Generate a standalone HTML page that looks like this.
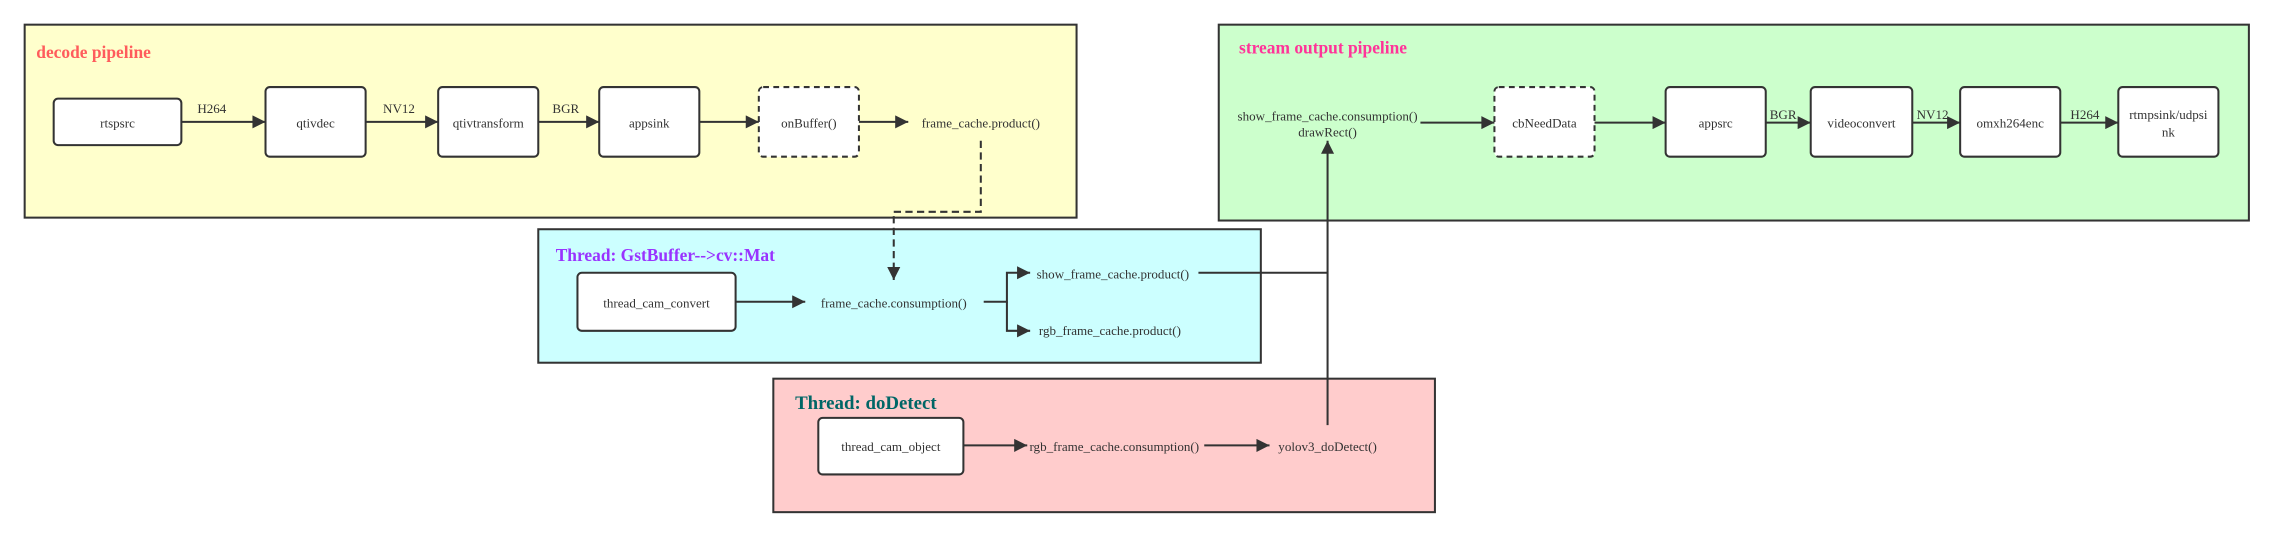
<!DOCTYPE html>
<html><head><meta charset="utf-8"><style>
html,body{margin:0;padding:0;background:#fff;}
svg{display:block;}
text{font-family:"Liberation Serif",serif;fill:#333;}
</style></head><body>
<svg width="2275" height="539" viewBox="0 0 1568 371.5" preserveAspectRatio="none" xmlns="http://www.w3.org/2000/svg">
<defs>
<marker id="a" viewBox="0 0 10 10" refX="10" refY="5" markerWidth="7" markerHeight="7" markerUnits="userSpaceOnUse" orient="auto"><path d="M0,0 L10,5 L0,10 z" fill="#333"/></marker>
<marker id="b" viewBox="0 0 10 10" refX="10" refY="5" markerWidth="12" markerHeight="9" markerUnits="userSpaceOnUse" orient="auto"><path d="M0,0 L10,5 L0,10 z" fill="#333"/></marker>
</defs>
<g stroke="#333" stroke-width="1.4">
<rect x="17" y="17" width="725" height="133" fill="#ffffcc"/>
<rect x="840" y="17" width="710" height="135" fill="#ccffcc"/>
<rect x="371" y="158" width="498" height="92" fill="#ccffff"/>
<rect x="533" y="261" width="456" height="92" fill="#ffcccc"/>
</g>
<g font-size="12" font-weight="bold">
<text x="25" y="40" style="fill:#ff5c5c">decode pipeline</text>
<text x="854" y="37" style="fill:#ff3399">stream output pipeline</text>
<text x="383" y="180" style="fill:#9933ff">Thread: GstBuffer--&gt;cv::Mat</text>
<text x="548" y="282" font-size="13" style="fill:#006666">Thread: doDetect</text>
</g>
<g stroke="#333" stroke-width="1.4" fill="#fff">
<rect x="37" y="68" width="88" height="32" rx="3"/>
<rect x="183" y="60" width="69" height="48" rx="3"/>
<rect x="302" y="60" width="69" height="48" rx="3"/>
<rect x="413" y="60" width="69" height="48" rx="3"/>
<rect x="523" y="60" width="69" height="48" rx="3" stroke-dasharray="4,3"/>
<rect x="1030" y="60" width="69" height="48" rx="3" stroke-dasharray="4,3"/>
<rect x="1148" y="60" width="69" height="48" rx="3"/>
<rect x="1248" y="60" width="70" height="48" rx="3"/>
<rect x="1351" y="60" width="69" height="48" rx="3"/>
<rect x="1460" y="60" width="69" height="48" rx="3"/>
<rect x="398" y="188" width="109" height="40" rx="3"/>
<rect x="564" y="288" width="100" height="39" rx="3"/>
</g>
<g stroke="#333" stroke-width="1.4" fill="none" marker-end="url(#b)">
<path d="M125,84 H183"/><path d="M252,84 H302"/><path d="M371,84 H413"/><path d="M482,84 H523"/><path d="M592,84 H626"/>
<path d="M979,84.5 H1030"/><path d="M1099,84.5 H1148"/><path d="M1217,84.5 H1248"/><path d="M1318,84.5 H1351"/><path d="M1420,84.5 H1460"/>
<path d="M507,208 H555"/>
<path d="M664,307 H708"/><path d="M830,307 H875"/>
<path d="M676,97 V146 H616 V193" stroke-dasharray="5,3"/>
<path d="M915,293 V97"/>
<path d="M678,208 H694 V188 H710"/>
<path d="M694,208 V228 H710"/>
</g>
<path d="M826,188 H915" stroke="#333" stroke-width="1.4" fill="none"/>
<g font-size="9" text-anchor="middle">
<text x="81" y="88">rtspsrc</text>
<text x="217.5" y="88">qtivdec</text>
<text x="336.5" y="88">qtivtransform</text>
<text x="447.5" y="88">appsink</text>
<text x="557.5" y="88">onBuffer()</text>
<text x="676" y="88">frame_cache.product()</text>
<text x="146" y="78">H264</text>
<text x="275" y="78">NV12</text>
<text x="390" y="78">BGR</text>
<text x="915" y="83">show_frame_cache.consumption()</text>
<text x="915" y="94">drawRect()</text>
<text x="1064.5" y="88">cbNeedData</text>
<text x="1182.5" y="88">appsrc</text>
<text x="1283" y="88">videoconvert</text>
<text x="1385.5" y="88">omxh264enc</text>
<text x="1494.5" y="82">rtmpsink/udpsi</text>
<text x="1494.5" y="94">nk</text>
<text x="1229" y="82">BGR</text>
<text x="1332" y="82">NV12</text>
<text x="1437" y="82">H264</text>
<text x="452.5" y="212">thread_cam_convert</text>
<text x="616" y="212">frame_cache.consumption()</text>
<text x="767" y="192">show_frame_cache.product()</text>
<text x="765" y="231">rgb_frame_cache.product()</text>
<text x="614" y="311">thread_cam_object</text>
<text x="768" y="311">rgb_frame_cache.consumption()</text>
<text x="915" y="311">yolov3_doDetect()</text>
</g>
</svg>
</body></html>
